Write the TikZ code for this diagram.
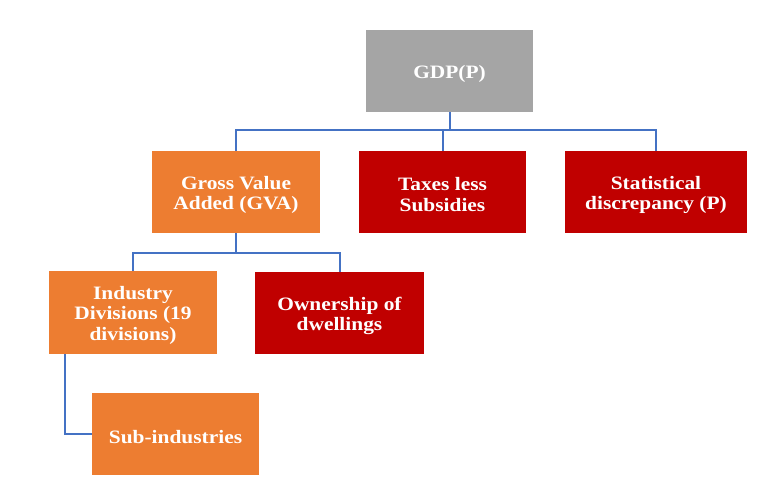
\documentclass[tikz,border=0pt]{standalone}
\usepackage{fontspec}
\setmainfont{Liberation Serif}[FakeStretch=1.13]
\definecolor{gdpgray}{HTML}{A5A5A5}
\definecolor{orng}{HTML}{ED7D31}
\definecolor{dred}{HTML}{C00000}
\definecolor{lblue}{HTML}{4472C4}
\begin{document}
\begin{tikzpicture}[x=0.75pt,y=-0.75pt,
  box/.style={draw=none,inner sep=0pt,minimum height=82*0.75pt},
  txt/.style={text=white,font=\fontsize{14.2}{15.7}\selectfont\bfseries,align=center,inner sep=0pt,yshift=-2.2pt},
  conn/.style={draw=lblue,line width=1.5pt}]
\useasboundingbox (0,0) rectangle (770,497);
\node[box,fill=gdpgray,minimum width=167*0.75pt,label={[txt]center:GDP(P)}] (gdp) at (449.5,71) {};
\node[box,fill=orng,minimum width=168*0.75pt,label={[txt]center:{Gross Value\\Added (GVA)}}] (gva) at (236,192) {};
\node[box,fill=dred,minimum width=167*0.75pt,label={[txt]center:{Taxes less\\Subsidies}}] (tax) at (442.5,192) {};
\node[box,fill=dred,minimum width=182*0.75pt,label={[txt]center:{Statistical\\discrepancy (P)}}] (stat) at (656,192) {};
\node[box,fill=orng,minimum width=168*0.75pt,minimum height=83*0.75pt,label={[txt]center:{Industry\\Divisions (19\\divisions)}}] (ind) at (133,312.5) {};
\node[box,fill=dred,minimum width=169*0.75pt,label={[txt]center:{Ownership of\\dwellings}}] (own) at (339.5,313) {};
\node[box,fill=orng,minimum width=167*0.75pt,label={[txt]center:Sub-industries}] (sub) at (175.5,434) {};
\draw[conn] (gdp.south) -- ++(0,18) coordinate (b1);
\draw[conn] (b1) -| (gva.north);
\draw[conn] (b1) -| (stat.north);
\draw[conn] (tax.north) -- (tax.north |- b1);
\draw[conn] (gva.south) -- ++(0,20) coordinate (b2);
\draw[conn] (b2) -| (ind.north);
\draw[conn] (b2) -| (own.north);
\draw[conn] (ind.south west) ++(16,0) |- (sub.west);
\end{tikzpicture}
\end{document}
